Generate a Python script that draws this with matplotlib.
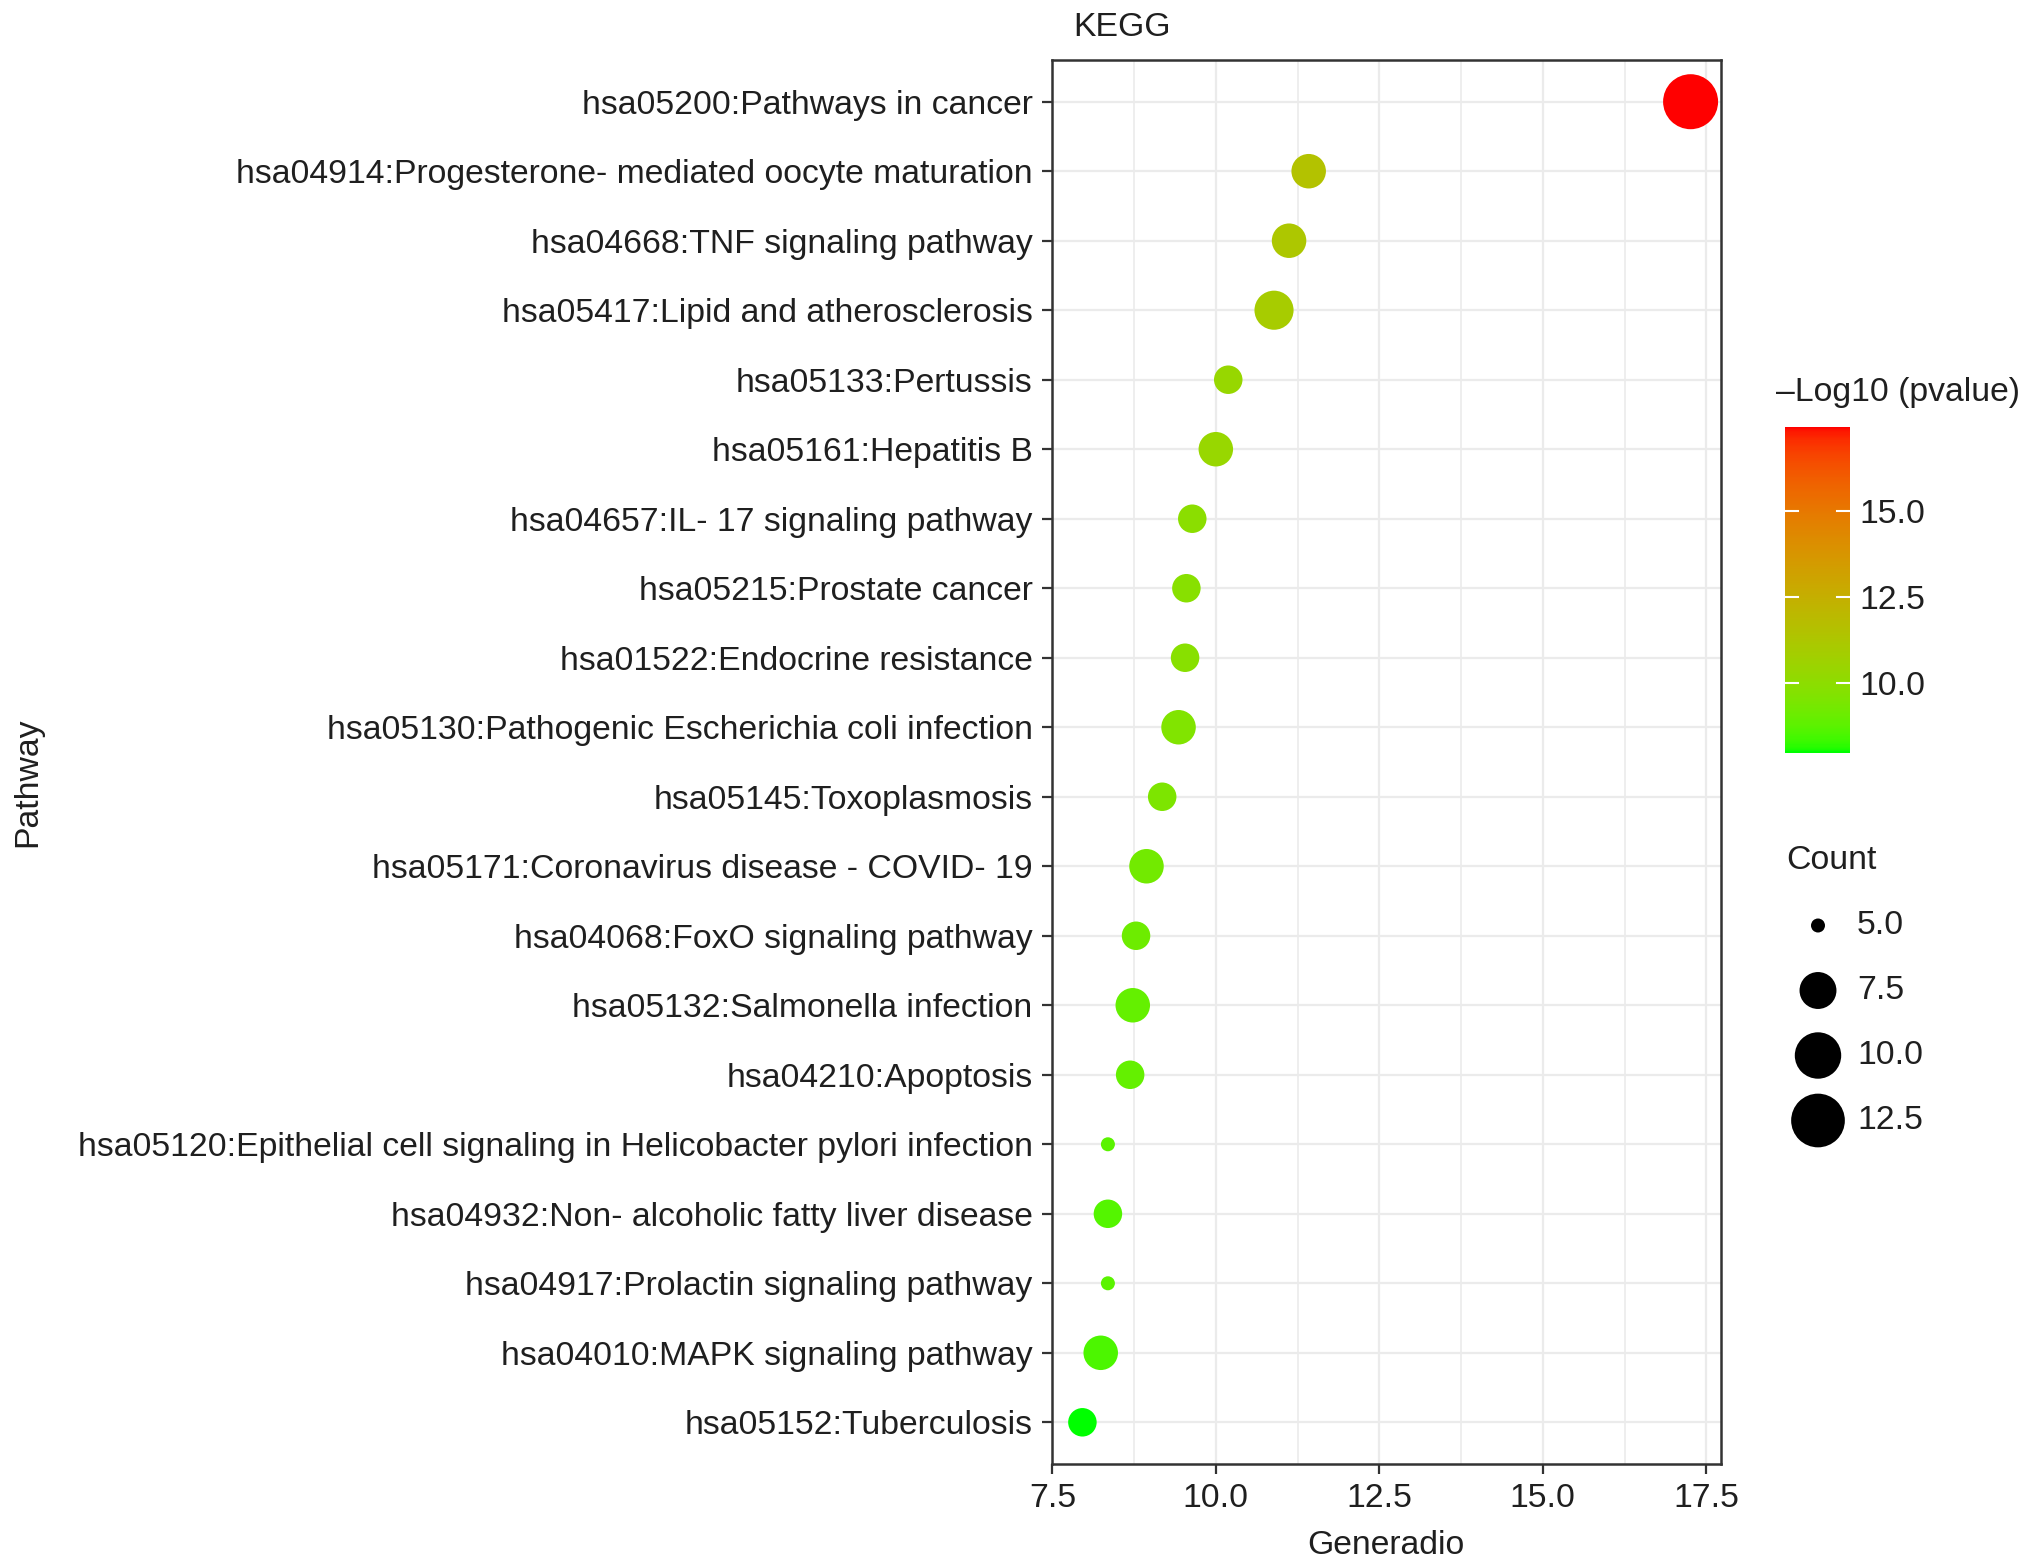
import matplotlib
matplotlib.use("Agg")
import matplotlib.pyplot as plt
import numpy as np
from matplotlib.colors import ListedColormap, Normalize

plt.rcParams["font.family"] = ["Liberation Sans", "DejaVu Sans"]

# KEGG enrichment, listed top to bottom as in the figure
pathways = [
    "hsa05200:Pathways in cancer",
    "hsa04914:Progesterone- mediated oocyte maturation",
    "hsa04668:TNF signaling pathway",
    "hsa05417:Lipid and atherosclerosis",
    "hsa05133:Pertussis",
    "hsa05161:Hepatitis B",
    "hsa04657:IL- 17 signaling pathway",
    "hsa05215:Prostate cancer",
    "hsa01522:Endocrine resistance",
    "hsa05130:Pathogenic Escherichia coli infection",
    "hsa05145:Toxoplasmosis",
    "hsa05171:Coronavirus disease - COVID- 19",
    "hsa04068:FoxO signaling pathway",
    "hsa05132:Salmonella infection",
    "hsa04210:Apoptosis",
    "hsa05120:Epithelial cell signaling in Helicobacter pylori infection",
    "hsa04932:Non- alcoholic fatty liver disease",
    "hsa04917:Prolactin signaling pathway",
    "hsa04010:MAPK signaling pathway",
    "hsa05152:Tuberculosis",
]
generatio = [17.26, 11.42, 11.12, 10.89, 10.19, 10.00, 9.64, 9.55, 9.53, 9.43,
             9.18, 8.94, 8.78, 8.73, 8.69, 8.35, 8.35, 8.35, 8.24, 7.96]
counts = [13, 7, 7, 8, 6, 7, 6, 6, 6, 7, 6, 7, 6, 7, 6, 5, 6, 5, 7, 6]
neg_log10_p = [17.46, 11.5, 11.2, 10.95, 10.3, 10.35, 9.9, 9.8, 9.8, 9.6,
               9.5, 9.2, 9.1, 8.9, 8.9, 8.7, 8.6, 8.7, 8.5, 7.95]

x_ticks = [7.5, 10.0, 12.5, 15.0, 17.5]
color_breaks = [10.0, 12.5, 15.0]
size_breaks = [5.0, 7.5, 10.0, 12.5]

W, H, DPI = 2032, 1568, 100
TEXT = "#1f1f1f"
FS = 24.3

# ---- green -> red gradient interpolated in CIELAB (as ggplot does)
M = np.array([[0.4124564, 0.3575761, 0.1804375],
              [0.2126729, 0.7151522, 0.0721750],
              [0.0193339, 0.1191920, 0.9503041]])
M_INV = np.linalg.inv(M)
WHITE = np.array([0.95047, 1.0, 1.08883])
D = 6 / 29


def srgb_to_lab(rgb):
    rgb = np.asarray(rgb, float)
    lin = np.where(rgb <= 0.04045, rgb / 12.92, ((rgb + 0.055) / 1.055) ** 2.4)
    t = (M @ lin) / WHITE
    f = np.where(t > D ** 3, np.cbrt(t), t / (3 * D ** 2) + 4 / 29)
    return np.array([116 * f[1] - 16, 500 * (f[0] - f[1]), 200 * (f[1] - f[2])])


def lab_to_srgb(lab):
    L, a, b = lab
    fy = (L + 16) / 116
    f = np.array([fy + a / 500, fy, fy - b / 200])
    t = np.where(f > D, f ** 3, 3 * D ** 2 * (f - 4 / 29))
    lin = np.clip(M_INV @ (t * WHITE), 0, 1)
    rgb = np.where(lin <= 0.0031308, 12.92 * lin, 1.055 * lin ** (1 / 2.4) - 0.055)
    return np.clip(rgb, 0, 1)


lab_lo = srgb_to_lab([0, 1, 0])
lab_hi = srgb_to_lab([1, 0, 0])
cmap = ListedColormap([lab_to_srgb(lab_lo + (lab_hi - lab_lo) * k)
                       for k in np.linspace(0, 1, 256)])
norm = Normalize(vmin=min(neg_log10_p), vmax=max(neg_log10_p))


# ---- point size scale (area scale, like scale_size)
def diameter_px(c):
    c = np.asarray(c, float)
    frac = (c - min(counts)) / (max(counts) - min(counts))
    return 14 + 41 * np.sqrt(np.clip(frac, 0, None))


def marker_area(c):
    return (diameter_px(c) * 72 / DPI) ** 2


fig = plt.figure(figsize=(W / DPI, H / DPI), dpi=DPI)


def fx(px):
    return px / W


def fy(py):
    return 1 - py / H


ax = fig.add_axes([fx(1052), fy(1464), fx(1721 - 1052), (1464 - 60) / H])
n = len(pathways)
ypos = np.arange(n)
ax.scatter(generatio, ypos, s=marker_area(counts), c=neg_log10_p, cmap=cmap,
           norm=norm, edgecolors="none", zorder=3)

ax.set_xticks(x_ticks)
ax.set_xticks([(a + b) / 2 for a, b in zip(x_ticks[:-1], x_ticks[1:])], minor=True)
ax.set_yticks(ypos)
ax.set_yticklabels(pathways)
ax.set_xticklabels([f"{v:.1f}" for v in x_ticks])
lo, hi = min(generatio), max(generatio)
pad = 0.05 * (hi - lo)
ax.set_xlim(lo - pad, hi + pad)
ax.set_ylim(n - 1 + 0.6, -0.6)
ax.tick_params(axis="both", which="major", length=7, width=1.6, color="#333333",
               labelsize=FS, labelcolor=TEXT, pad=7)
ax.tick_params(axis="x", which="minor", length=0)
ax.grid(which="major", color="#EBEBEB", linewidth=1.6)
ax.grid(which="minor", axis="x", color="#EBEBEB", linewidth=1.2)
ax.set_axisbelow(True)
for sp in ax.spines.values():
    sp.set_color("#333333")
    sp.set_linewidth(1.8)

fig.text(fx(1073), fy(27), "KEGG", fontsize=FS, color=TEXT, ha="left", va="center")
fig.text(fx(28), fy(782), "Pathway", fontsize=FS, color=TEXT, rotation=90,
         ha="center", va="center")
fig.text(fx(1386), fy(1545), "Generadio", fontsize=FS, color=TEXT,
         ha="center", va="center")

# ---- colour bar
cax = fig.add_axes([fx(1785), fy(753), fx(65), (753 - 427) / H])
grad = np.linspace(norm.vmin, norm.vmax, 300).reshape(-1, 1)
cax.imshow(grad, aspect="auto", origin="lower", cmap=cmap, norm=norm,
           extent=[0, 1, norm.vmin, norm.vmax])
cax.set_xlim(0, 1)
cax.set_ylim(norm.vmin, norm.vmax)
for v in color_breaks:
    cax.plot([0, 0.2], [v, v], color="white", lw=1.5)
    cax.plot([0.8, 1], [v, v], color="white", lw=1.5)
cax.set_xticks([])
cax.yaxis.tick_right()
cax.set_yticks(color_breaks)
cax.set_yticklabels([f"{v:.1f}" for v in color_breaks])
cax.tick_params(axis="y", length=0, pad=7, labelsize=FS, labelcolor=TEXT)
for sp in cax.spines.values():
    sp.set_visible(False)
fig.text(fx(1776), fy(392), "\u2013Log10 (pvalue)", fontsize=FS, color=TEXT,
         ha="left", va="center")

# ---- size legend
lax = fig.add_axes([fx(1786), fy(1153), fx(240), 325 / H])
lax.set_xlim(0, 240)
lax.set_ylim(len(size_breaks) - 0.5, -1.5)
lax.axis("off")
lax.scatter([32] * len(size_breaks), range(len(size_breaks)),
            s=marker_area(size_breaks), color="black", edgecolors="none")
for i, b in enumerate(size_breaks):
    lax.text(71, i, f"{b:.1f}", fontsize=FS, color=TEXT, ha="left", va="center")
lax.text(0, -1, "Count", fontsize=FS, color=TEXT, ha="left", va="center")

fig.savefig("out.png", dpi=DPI, facecolor="white")
